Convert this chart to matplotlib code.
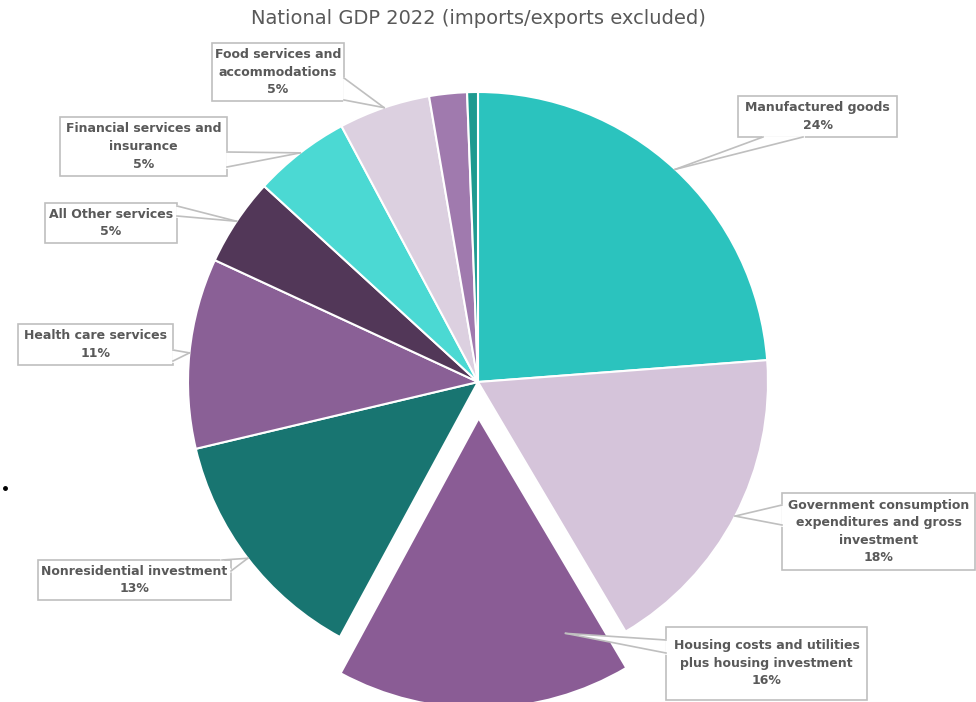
import numpy as np
import matplotlib
matplotlib.use("Agg")
import matplotlib.pyplot as plt
from matplotlib.patches import Rectangle, Polygon
from matplotlib.lines import Line2D

# ---------------- data ----------------
title = "National GDP 2022 (imports/exports excluded)"
categories = [
    "Manufactured goods",
    "Government consumption\nexpenditures and gross\ninvestment",
    "Housing costs and utilities\nplus housing investment",
    "Nonresidential investment",
    "Health care services",
    "All Other services",
    "Financial services and\ninsurance",
    "Food services and\naccommodations",
    "Other goods",
    "Other",
]
values = [23.8, 17.7, 16.4, 13.4, 10.6, 4.9, 5.4, 5.1, 2.1, 0.6]
colors = ["#2BC3BE", "#D5C4DA", "#8A5C95", "#187571", "#8A6096",
          "#523758", "#4BD9D3", "#DCD0E0", "#A07AAE", "#1E9A90"]
explode = [0, 0, 0.125, 0, 0, 0, 0, 0, 0, 0]
show_label = [True, True, True, True, True, True, True, True, False, False]

# ---------------- layout (pixels) ----------------
W, H = 976, 702
CX, CY, R = 478, 382, 290
# label boxes: (x0, y0, x1, y1), base points of callout pointer
boxes = {
    0: ((738, 96, 897, 137), [(763, 137), (803, 137)]),
    1: ((782, 493, 975, 570), [(782, 505), (782, 525)]),
    2: ((666, 627, 867, 700), [(666, 640), (666, 653)]),
    3: ((38, 560, 231, 600), [(222, 560), (231, 571)]),
    4: ((18, 324, 173, 365), [(173, 350), (173, 361)]),
    5: ((45, 203, 177, 243), [(177, 206), (177, 216)]),
    6: ((60, 117, 227, 176), [(227, 152), (227, 167)]),
    7: ((212, 43, 344, 101), [(344, 78), (344, 100)]),
}
tip_override = {2: (-68, 0.8)}  # angle (deg), radius fraction relative to wedge centre

fig = plt.figure(figsize=(W / 100, H / 100), dpi=100)
ax = fig.add_axes([(CX - R) / W, (H - CY - R) / H, 2 * R / W, 2 * R / H])
wedges, _ = ax.pie(values, colors=colors, startangle=90, counterclock=False,
                   explode=explode,
                   wedgeprops=dict(edgecolor="white", linewidth=1.5))
for w in wedges:
    w.set_clip_on(False)
ax.set_xlim(-1, 1)
ax.set_ylim(-1, 1)
ax.set_aspect("auto")
ax.axis("off")

fig.canvas.draw()

def data_to_px(x, y):
    dx, dy = ax.transData.transform((x, y))
    return dx, H - dy

def fig_xy(px, py):
    return px / W, 1 - py / H

txt_color = "#595959"
edge_color = "#BFBFBF"
font = "DejaVu Sans"

for i, w in enumerate(wedges):
    if not show_label[i]:
        continue
    (x0, y0, x1, y1), base = boxes[i]
    cx, cy = w.center
    if i in tip_override:
        ang, rr = tip_override[i]
    else:
        ang, rr = (w.theta1 + w.theta2) / 2, 1.0
    tx = cx + rr * np.cos(np.radians(ang))
    ty = cy + rr * np.sin(np.radians(ang))
    tpx, tpy = data_to_px(tx, ty)

    tri = Polygon([fig_xy(*base[0]), fig_xy(tpx, tpy), fig_xy(*base[1])],
                  closed=True, facecolor="white", edgecolor="none",
                  transform=fig.transFigure, zorder=5)
    fig.add_artist(tri)
    rect = Rectangle(fig_xy(x0, y1), (x1 - x0) / W, (y1 - y0) / H,
                     facecolor="white", edgecolor=edge_color, linewidth=1.2,
                     transform=fig.transFigure, zorder=6)
    fig.add_artist(rect)
    bx = [fig_xy(*base[0]), fig_xy(*base[1])]
    cover = Line2D([bx[0][0], bx[1][0]], [bx[0][1], bx[1][1]], color="white",
                   linewidth=2, transform=fig.transFigure, zorder=7)
    fig.add_artist(cover)
    for b in base:
        p0 = fig_xy(*b)
        p1 = fig_xy(tpx, tpy)
        fig.add_artist(Line2D([p0[0], p1[0]], [p0[1], p1[1]], color=edge_color,
                              linewidth=1.2, transform=fig.transFigure, zorder=7))
    label = f"{categories[i]}\n{round(values[i]):.0f}%"
    fig.text((x0 + x1) / 2 / W, 1 - (y0 + y1) / 2 / H, label,
             ha="center", va="center", fontsize=9, fontweight="bold",
             color=txt_color, family=font, linespacing=1.45, zorder=8)

fig.text(CX / W, 1 - 18 / H, title, ha="center", va="center",
         fontsize=14, color=txt_color, family=font)

# stray bullet dot at left edge
fig.add_artist(Line2D([5 / W], [1 - 488 / H], marker="o", markersize=2.5,
                      color="black", transform=fig.transFigure))

fig.savefig("out.png", dpi=100, facecolor="white")
